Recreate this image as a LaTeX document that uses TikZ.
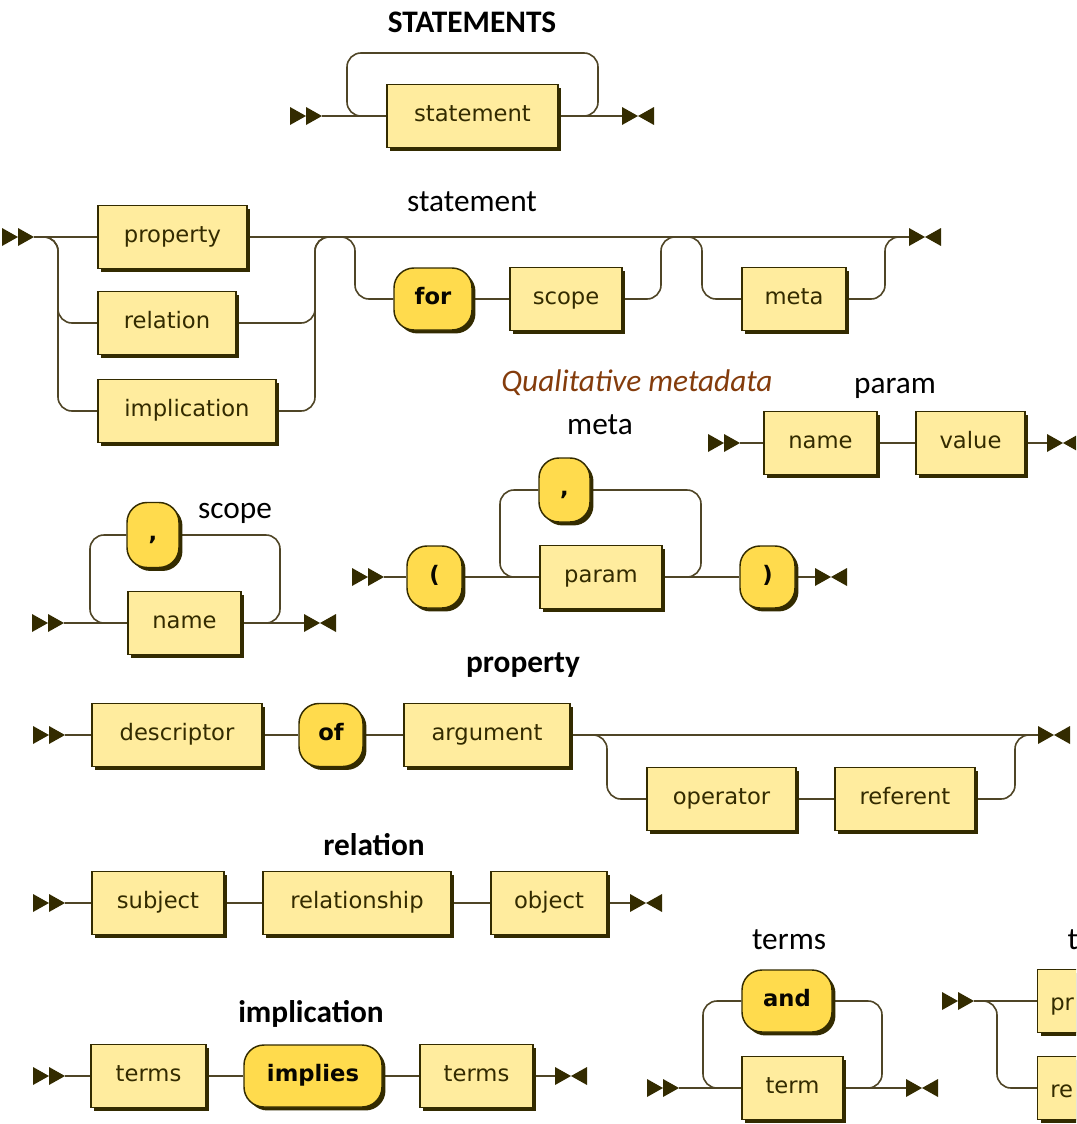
\documentclass[tikz,border=0pt]{standalone}
\usepackage{fontspec}
\setmainfont{Carlito}
\newfontfamily\boxfont{DejaVu Sans}
\usetikzlibrary{shadows}
\definecolor{ntfill}{HTML}{FFEC9E}
\definecolor{tfill}{HTML}{FFDB4D}
\definecolor{ink}{HTML}{332B00}
\definecolor{wirecol}{HTML}{4F4526}
\definecolor{rust}{HTML}{843C0C}
\pgfdeclarelayer{wires}
\pgfsetlayers{wires,main}
\tikzset{
  box/.style={draw=ink, line width=1.1pt, text=ink, inner sep=0pt,
    font=\boxfont\fontsize{17}{20}\selectfont,
    text height=1.05em, text depth=0.2em,
    minimum height=47.25pt,
    drop shadow={shadow xshift=2.6pt, shadow yshift=-2.6pt, opacity=1, fill=ink}},
  nt/.style={box, rectangle, fill=ntfill},
  tm/.style={box, rounded corners=15pt, fill=tfill, text=black!85!ink,
    font=\boxfont\bfseries\fontsize{17}{20}\selectfont},
  wd/.style={minimum width=#1*0.75pt},
  ht/.style={minimum height=#1*0.75pt},
  boxtext/.style={text=ink, inner sep=0pt, font=\boxfont\fontsize{17}{20}\selectfont},
  wire/.style={draw=wirecol, line width=1.2pt, rounded corners=10.5pt},
  heading/.style={font=\bfseries\fontsize{23.5}{28}\selectfont},
  lbl/.style={font=\fontsize{23.5}{28}\selectfont},
  remark/.style={font=\itshape\fontsize{23.5}{28}\selectfont, text=rust},
  startsym/.pic={\fill[ink] (0,-9) -- (16,0) -- (0,9) -- cycle
                            (16,-9) -- (32,0) -- (16,9) -- cycle;},
  endsym/.pic={\fill[ink] (0,-9) -- (16,0) -- (0,9) -- cycle
                          (32,-9) -- (16,0) -- (32,9) -- cycle;}
}
\begin{document}
\begin{tikzpicture}[x=0.75pt,y=-0.75pt]
\useasboundingbox (0,0) rectangle (1076,1124);
\clip (0,0) rectangle (1076,1124);

% ---------- STATEMENTS ----------
\node[heading] at (472,22) {STATEMENTS};
\pic at (290,116) {startsym}; \coordinate (a0) at (322,116);
\node[nt, wd=171] (stmt) at (472.5,116) {statement};
\pic at (622,116) {endsym}; \coordinate (a1) at (622,116);

% ---------- statement ----------
\node[lbl] at (472,202) {statement};
\pic at (2,237) {startsym}; \coordinate (b0) at (34,237);
\node[nt, wd=149] (prop) at (172.5,237) {property};
\node[nt, wd=138] (rel) at (167,323) {relation};
\node[nt, wd=178] (impl) at (187,411) {implication};
\node[tm, wd=78, ht=62] (for) at (433,299) {for};
\node[nt, wd=112] (scp) at (566,299) {scope};
\node[nt, wd=104] (mta) at (794,299) {meta};
\pic at (909,237) {endsym}; \coordinate (b1) at (909,237);

% ---------- meta ----------
\node[remark] at (637,383) {Qualitative metadata};
\node[lbl] at (600,425) {meta};
\pic at (352,577) {startsym}; \coordinate (c0) at (384,577);
\node[tm, wd=55, ht=62] (lp) at (434.5,577) {(};
\node[nt, wd=122] (prm) at (601,577) {param};
\node[tm, wd=51, ht=64] (cm2) at (564.5,490) {,};
\node[tm, wd=55, ht=62] (rp) at (767.5,577) {)};
\pic at (815,577) {endsym}; \coordinate (c1) at (815,577);

% ---------- param ----------
\node[lbl] at (895,388) {param};
\pic at (708,443) {startsym}; \coordinate (d0) at (740,443);
\node[nt, wd=113] (pname) at (820.5,443) {name};
\node[nt, wd=109] (pval) at (970.5,443) {value};
\pic at (1047,443) {endsym}; \coordinate (d1) at (1047,443);

% ---------- scope ----------
\node[lbl] at (235,513) {scope};
\pic at (32,623) {startsym}; \coordinate (e0) at (64,623);
\node[nt, wd=113] (sname) at (184.5,623) {name};
\node[tm, wd=52, ht=65] (cm1) at (153,535) {,};
\pic at (304,623) {endsym}; \coordinate (e1) at (304,623);

% ---------- property ----------
\node[heading] at (523,665) {property};
\pic at (33,735) {startsym}; \coordinate (f0) at (65,735);
\node[nt, wd=170] (desc) at (177,735) {descriptor};
\node[tm, wd=64, ht=63] (of) at (331,735) {of};
\node[nt, wd=166] (arg) at (487,735) {argument};
\node[nt, wd=149] (op) at (721.5,799) {operator};
\node[nt, wd=140] (ref) at (905,799) {referent};
\pic at (1038,735) {endsym}; \coordinate (f1) at (1038,735);

% ---------- relation ----------
\node[heading] at (374,845) {relation};
\pic at (33,903) {startsym}; \coordinate (g0) at (65,903);
\node[nt, wd=132] (subj) at (158,903) {subject};
\node[nt, wd=188] (rship) at (357,903) {relationship};
\node[nt, wd=116] (obj) at (549,903) {object};
\pic at (630,903) {endsym}; \coordinate (g1) at (630,903);

% ---------- implication ----------
\node[heading] at (311,1014) {implication};
\pic at (33,1076) {startsym}; \coordinate (h0) at (65,1076);
\node[nt, wd=115] (tl) at (148.5,1076) {terms};
\node[tm, wd=138, ht=62] (imp) at (313,1076) {implies};
\node[nt, wd=113] (tr) at (476.5,1076) {terms};
\pic at (555,1076) {endsym}; \coordinate (h1) at (555,1076);

% ---------- terms ----------
\node[lbl] at (789,940) {terms};
\pic at (647,1088) {startsym}; \coordinate (k0) at (679,1088);
\node[nt, wd=101] (trm) at (792.5,1088) {term};
\node[tm, wd=90, ht=62] (and) at (787,1001) {and};
\pic at (906,1088) {endsym}; \coordinate (k1) at (906,1088);

% ---------- term (runs on past the right edge) ----------
\node[lbl, anchor=west] at (1063,940) {t};
\pic at (942,1001) {startsym}; \coordinate (m0) at (974,1001);
\node[nt, wd=120, anchor=west] (tp) at (1037,1001) {};
\node[nt, wd=120, anchor=west] (tq) at (1037,1088) {};
\node[boxtext, anchor=base west] at (1050,1010) {pr};
\node[boxtext, anchor=base west] at (1050,1097) {re};

% ---------- connectors ----------
\begin{pgfonlayer}{wires}
  % STATEMENTS
  \draw[wire] (a0) -- (stmt.west) (stmt.east) -- (a1);
  \draw[wire] (stmt.east) -| (598,53) -- (347,53) |- (stmt.west);
  % statement
  \draw[wire] (b0) -- (prop.west) (prop.east) -- (b1);
  \draw[wire] (b0) -| (58,323) -- (rel.west);
  \draw[wire] (b0) -| (58,411) -- (impl.west);
  \draw[wire] (rel.east) -| (315,237) -- (340,237);
  \draw[wire] (impl.east) -| (315,237) -- (340,237);
  \draw[wire] (320,237) -| (355,299) -- (for.west);
  \draw[wire] (for.east) -- (scp.west);
  \draw[wire] (scp.east) -| (661,237) -- (685,237);
  \draw[wire] (670,237) -| (702,299) -- (mta.west);
  \draw[wire] (mta.east) -| (885,237) -- (b1);
  % meta
  \draw[wire] (c0) -- (lp.west) (lp.east) -- (prm.west)
              (prm.east) -- (rp.west) (rp.east) -- (c1);
  \draw[wire] (prm.east) -| (701,490) -- (cm2.east);
  \draw[wire] (cm2.west) -| (500,577) -- (prm.west);
  % param
  \draw[wire] (d0) -- (pname.west) (pname.east) -- (pval.west) (pval.east) -- (d1);
  % scope
  \draw[wire] (e0) -- (sname.west) (sname.east) -- (e1);
  \draw[wire] (sname.east) -| (280,535) -- (cm1.east);
  \draw[wire] (cm1.west) -| (90,623) -- (sname.west);
  % property
  \draw[wire] (f0) -- (desc.west) (desc.east) -- (of.west)
              (of.east) -- (arg.west) (arg.east) -- (f1);
  \draw[wire] (arg.east) -| (607,799) -- (op.west);
  \draw[wire] (op.east) -- (ref.west);
  \draw[wire] (ref.east) -| (1015,735) -- (f1);
  % relation
  \draw[wire] (g0) -- (subj.west) (subj.east) -- (rship.west)
              (rship.east) -- (obj.west) (obj.east) -- (g1);
  % implication
  \draw[wire] (h0) -- (tl.west) (tl.east) -- (imp.west)
              (imp.east) -- (tr.west) (tr.east) -- (h1);
  % terms
  \draw[wire] (k0) -- (trm.west) (trm.east) -- (k1);
  \draw[wire] (trm.east) -| (882,1001) -- (and.east);
  \draw[wire] (and.west) -| (703,1088) -- (trm.west);
  % term
  \draw[wire] (m0) -- (tp.west);
  \draw[wire] (m0) -| (997,1088) -- (tq.west);
\end{pgfonlayer}
\end{tikzpicture}
\end{document}
